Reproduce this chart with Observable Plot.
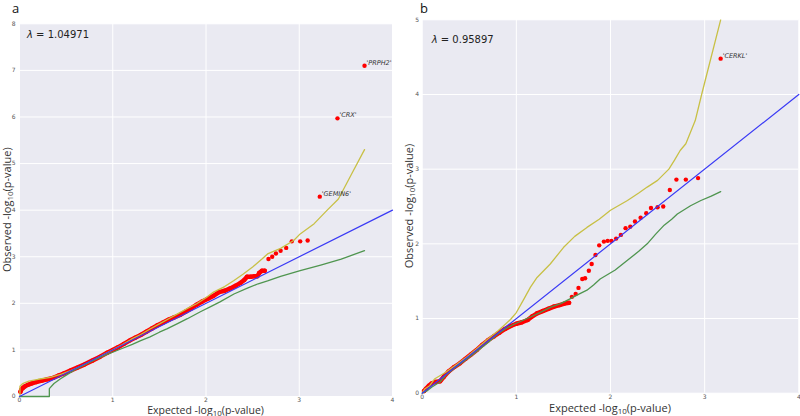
<!DOCTYPE html>
<html><head><meta charset="utf-8">
<script src="https://cdn.jsdelivr.net/npm/d3@7"></script>
<script src="https://cdn.jsdelivr.net/npm/@observablehq/plot@0.6"></script>
<style>
body{margin:0;background:#fff;}
#wrap{display:flex;width:800px;height:416px;overflow:hidden;}
#wrap svg{display:block;flex:none;}
</style></head><body><div id="wrap"></div>
<script>
// ---------- Panel a data (expected, observed) ----------
const aObsDense = [[0.01,0.10],[0.02,0.15],[0.04,0.19],[0.06,0.22],[0.09,0.25],[0.13,0.28],[0.18,0.31],[0.24,0.34],[0.30,0.37],[0.36,0.40],[0.42,0.45],[0.48,0.50],[0.55,0.56],[0.62,0.62],[0.70,0.69],[0.78,0.77],[0.86,0.85],[0.94,0.94],[1.00,1.00],[1.06,1.06],[1.12,1.13],[1.18,1.20],[1.24,1.26],[1.30,1.32],[1.36,1.39],[1.42,1.46],[1.48,1.53],[1.54,1.59],[1.60,1.65],[1.66,1.70],[1.72,1.75],[1.78,1.82],[1.84,1.89],[1.90,1.97],[1.96,2.04],[2.02,2.10],[2.08,2.16],[2.14,2.24],[2.20,2.27],[2.26,2.32],[2.32,2.38],[2.37,2.44],[2.41,2.50],[2.44,2.57],[2.48,2.57],[2.52,2.58],[2.55,2.58],[2.57,2.65],[2.60,2.70],[2.63,2.70]];
const aObsSparse = [[2.67,2.95],[2.71,3.00],[2.75,3.07],[2.80,3.13],[2.86,3.19],[2.92,3.33],[3.01,3.33],[3.09,3.35]];
const aGenePts = [[3.22,4.29],[3.41,5.97],[3.70,7.10]];
const aGeneNames = ["'GEMIN6'","'CRX'","'PRPH2'"];
const aUpper = [[0.005,0],[0.005,0.22],[0.03,0.27],[0.06,0.30],[0.10,0.33],[0.20,0.37],[0.33,0.41],[0.45,0.48],[0.57,0.57],[0.69,0.68],[0.80,0.79],[0.90,0.90],[1.00,1.00],[1.10,1.11],[1.20,1.23],[1.30,1.33],[1.40,1.45],[1.50,1.56],[1.60,1.67],[1.70,1.78],[1.80,1.89],[1.90,1.99],[2.00,2.12],[2.08,2.24],[2.20,2.36],[2.30,2.49],[2.40,2.63],[2.50,2.78],[2.60,2.95],[2.66,3.06],[2.80,3.18],[2.94,3.35],[3.01,3.49],[3.16,3.71],[3.30,4.00],[3.42,4.24],[3.56,4.77],[3.70,5.30]];
const aLower = [[0,0],[0.32,0],[0.32,0.17],[0.37,0.28],[0.44,0.38],[0.51,0.47],[0.60,0.58],[0.69,0.67],[0.80,0.78],[0.90,0.87],[1.00,0.95],[1.10,1.03],[1.21,1.12],[1.30,1.20],[1.40,1.28],[1.50,1.38],[1.58,1.45],[1.70,1.57],[1.80,1.67],[1.94,1.82],[2.05,1.93],[2.15,2.03],[2.30,2.20],[2.45,2.33],[2.56,2.42],[2.66,2.48],[2.80,2.58],[3.01,2.70],[3.23,2.82],[3.45,2.95],[3.70,3.13]];
const aLambda = "1.04971";
const aYTicks = [0,1,2,3,4,5,6,7,8];

// ---------- Panel b data ----------
const bObsDense = [[0.02,0.03],[0.04,0.06],[0.07,0.10],[0.10,0.13],[0.14,0.15],[0.19,0.16],[0.23,0.22],[0.28,0.29],[0.34,0.35],[0.40,0.40],[0.46,0.46],[0.52,0.52],[0.58,0.58],[0.64,0.65],[0.70,0.71],[0.76,0.76],[0.82,0.81],[0.88,0.86],[0.94,0.90],[1.00,0.93],[1.06,0.95],[1.12,0.98],[1.17,1.03],[1.22,1.07],[1.28,1.10],[1.34,1.13],[1.40,1.16],[1.46,1.18],[1.51,1.20],[1.56,1.21]];
const bObsSparse = [[1.59,1.29],[1.63,1.33],[1.66,1.41],[1.70,1.53],[1.73,1.54],[1.77,1.64],[1.80,1.73],[1.84,1.85],[1.88,1.98],[1.93,2.03],[1.97,2.04],[2.01,2.04],[2.06,2.07],[2.11,2.12],[2.16,2.21],[2.21,2.23],[2.26,2.30],[2.32,2.35],[2.38,2.41],[2.43,2.48],[2.50,2.49],[2.56,2.50],[2.63,2.72],[2.70,2.86],[2.80,2.86],[2.93,2.88]];
const bGenePts = [[3.17,4.48]];
const bGeneNames = ["'CERKL'"];
const bUpper = [[0,0],[0.03,0.06],[0.08,0.10],[0.13,0.19],[0.17,0.22],[0.25,0.28],[0.35,0.37],[0.48,0.49],[0.60,0.62],[0.70,0.73],[0.80,0.83],[0.88,0.92],[0.94,0.99],[1.00,1.08],[1.08,1.26],[1.15,1.42],[1.22,1.55],[1.36,1.73],[1.50,1.95],[1.62,2.10],[1.75,2.22],[1.88,2.33],[2.00,2.45],[2.18,2.58],[2.30,2.68],[2.39,2.76],[2.50,2.85],[2.62,3.00],[2.68,3.12],[2.74,3.25],[2.80,3.34],[2.90,3.65],[2.97,4.01],[3.17,5.00]];
const bLower = [[0,0],[0.05,0.03],[0.10,0.08],[0.15,0.12],[0.19,0.15],[0.25,0.24],[0.35,0.34],[0.48,0.46],[0.60,0.58],[0.70,0.68],[0.80,0.79],[0.88,0.86],[0.97,0.92],[1.06,0.97],[1.15,1.02],[1.25,1.08],[1.36,1.15],[1.47,1.20],[1.58,1.27],[1.67,1.33],[1.75,1.38],[1.82,1.45],[1.89,1.53],[2.05,1.65],[2.18,1.78],[2.30,1.90],[2.39,2.00],[2.48,2.13],[2.57,2.25],[2.65,2.33],[2.71,2.40],[2.85,2.51],[2.96,2.58],[3.07,2.64],[3.17,2.70]];
const bLambda = "0.95897";
const bYTicks = [0,1,2,3,4,5];

const xTicks = [0,1,2,3,4];
const nullLine = [[0,0],[4,4]];

const BG = "#EAEAF2", RED = "#ff0000", YEL = "#c8c046", GRN = "#4f954f", BLU = "#3a3af5";
const LABEL_FONT = "'Open Sans', 'DejaVu Sans', sans-serif";

function panel(cfg) {
  const svg = Plot.plot({
    width: 400, height: 416,
    marginLeft: cfg.ml, marginRight: cfg.mr, marginTop: cfg.mt, marginBottom: cfg.mb,
    x: {domain: [0, 4], ticks: xTicks, tickSize: 0, tickPadding: cfg.xtp, label: null, tickFormat: d => String(d)},
    y: {domain: [0, cfg.yMax], ticks: cfg.yTicks, tickSize: 0, tickPadding: cfg.ytp, label: null, tickFormat: d => String(d)},
    style: {fontFamily: "'DejaVu Sans', sans-serif", fontSize: "6px", color: "#555", background: "white", overflow: "visible"},
    marks: [
      Plot.frame({fill: BG, stroke: null}),
      Plot.gridX(xTicks, {stroke: "white", strokeOpacity: 1, strokeWidth: 1}),
      Plot.gridY(cfg.yTicks, {stroke: "white", strokeOpacity: 1, strokeWidth: 1}),
      Plot.line(cfg.dense, {x: d => d[0], y: d => d[1], stroke: RED, strokeWidth: 4.5, strokeLinecap: "round", strokeLinejoin: "round"}),
      Plot.dot(cfg.dense.concat(cfg.sparse, cfg.genes), {x: d => d[0], y: d => d[1], r: 2.2, fill: RED, stroke: "none"}),
      Plot.line(cfg.upper, {x: d => d[0], y: d => d[1], stroke: YEL, strokeWidth: 1.3, clip: true}),
      Plot.line(cfg.lower, {x: d => d[0], y: d => d[1], stroke: GRN, strokeWidth: 1.3}),
      Plot.line(nullLine, {x: d => d[0], y: d => d[1], stroke: BLU, strokeWidth: 1.2}),
      Plot.text(cfg.genes, {x: d => d[0], y: d => d[1], text: (d, i) => cfg.names[i], dx: 2, dy: -3, textAnchor: "start", fontStyle: "italic", fontSize: 6.5, fill: "#333", fontFamily: "'DejaVu Sans', sans-serif"})
    ]
  });
  const s = d3.select(svg);
  const xs = svg.scale("x"), ys = svg.scale("y");
  const x0 = xs.apply(0), x4 = xs.apply(4), yTop = ys.apply(cfg.yMax), y0 = ys.apply(0);
  // panel letter
  s.append("text").attr("x", cfg.letterX).attr("y", cfg.letterY).attr("text-anchor", "start").attr("font-family", LABEL_FONT)
    .attr("font-size", 13).attr("fill", "#111").text(cfg.letter);
  // lambda
  const lt = s.append("text").attr("x", x0 + cfg.lamDx).attr("y", yTop + cfg.lamDy).attr("text-anchor", "start")
    .attr("font-family", "'DejaVu Sans', sans-serif").attr("font-size", 10).attr("fill", "#222");
  lt.append("tspan").attr("font-style", "italic").text("λ");
  lt.append("tspan").text(" = " + cfg.lambda);
  // x-axis label
  const xl = s.append("text").attr("x", (x0 + x4) / 2).attr("y", cfg.xLabY).attr("text-anchor", "middle")
    .attr("font-family", LABEL_FONT).attr("font-size", cfg.xLabSize).attr("fill", "#333");
  xl.append("tspan").text("Expected -log");
  xl.append("tspan").attr("dy", 2).attr("font-size", 8).text("10");
  xl.append("tspan").attr("dy", -2).text("(p-value)");
  // y-axis label
  const yl = s.append("text").attr("transform", `translate(${cfg.yLabX},${(yTop + y0) / 2}) rotate(-90)`)
    .attr("text-anchor", "middle").attr("font-family", LABEL_FONT).attr("font-size", 11).attr("fill", "#333");
  yl.append("tspan").text("Observed -log");
  yl.append("tspan").attr("dy", 2).attr("font-size", 8).text("10");
  yl.append("tspan").attr("dy", -2).text("(p-value)");
  return svg;
}

const wrap = document.getElementById("wrap");
wrap.appendChild(panel({
  ml: 19, mr: 8, mt: 23.3, mb: 20, yMax: 8, yTicks: aYTicks, ytp: 4, xtp: 1.5,
  dense: aObsDense, sparse: aObsSparse, genes: aGenePts, names: aGeneNames,
  upper: aUpper, lower: aLower, lambda: aLambda,
  letter: "a", letterX: 12, letterY: 13, lamDx: 8, lamDy: 15, xLabY: 413.5, xLabSize: 10.5, yLabX: 10.5
}));
wrap.appendChild(panel({
  ml: 21.7, mr: 1.7, mt: 19.3, mb: 23.3, yMax: 5, yTicks: bYTicks, ytp: 3, xtp: 2,
  dense: bObsDense, sparse: bObsSparse, genes: bGenePts, names: bGeneNames,
  upper: bUpper, lower: bLower, lambda: bLambda,
  letter: "b", letterX: 20, letterY: 13, lamDx: 10, lamDy: 24, xLabY: 412, xLabSize: 11, yLabX: 12.5
}));
</script></body></html>
